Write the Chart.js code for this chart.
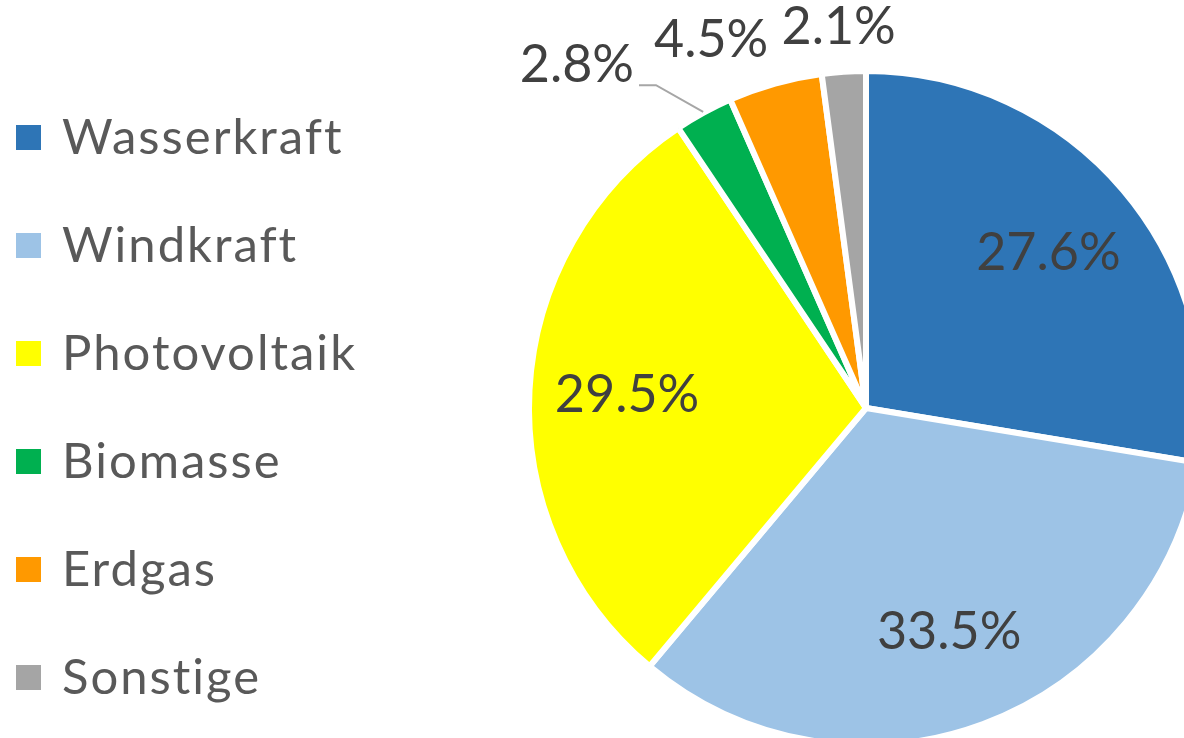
<!DOCTYPE html>
<html>
<head>
<meta charset="utf-8">
<script src="https://cdn.jsdelivr.net/npm/chart.js@4.4.0/dist/chart.umd.min.js"></script>
<style>
  html, body { margin: 0; padding: 0; background: #fff; overflow: hidden; }
  #wrap { position: relative; width: 1184px; height: 738px; }
</style>
</head>
<body>
<div id="wrap"><canvas id="pie" width="1184" height="738"></canvas></div>
<script>
// data
const categories = ['Wasserkraft', 'Windkraft', 'Photovoltaik', 'Biomasse', 'Erdgas', 'Sonstige'];
const shares = [27.6, 33.5, 29.5, 2.8, 4.5, 2.1];
const sliceColors = ['#2e75b6', '#9dc3e6', '#ffff00', '#00b050', '#ff9900', '#a5a5a5'];

const FONT = 'Lato, "Open Sans", sans-serif';

// legend down the left side, drawn on the canvas
const sideLegend = {
    id: 'sideLegend',
    afterDraw(chart) {
        const ctx = chart.ctx;
        const labels = chart.data.labels;
        const bg = chart.data.datasets[0].backgroundColor;
        ctx.save();
        ctx.font = '49px ' + FONT;
        ctx.letterSpacing = '2px';
        ctx.textBaseline = 'alphabetic';
        labels.forEach((lab, i) => {
            const y = 137.5 + i * 108;
            ctx.fillStyle = bg[i];
            ctx.fillRect(16, y - 12.5, 25, 25);
            ctx.fillStyle = '#595959';
            ctx.fillText(lab, 62, y + 16);
        });
        ctx.restore();
    }
};

// percentage labels: inside for big slices, outside for small ones (leader line if pushed aside)
const sliceLabels = {
    id: 'sliceLabels',
    afterDatasetsDraw(chart) {
        const ctx = chart.ctx;
        const meta = chart.getDatasetMeta(0);
        const values = chart.data.datasets[0].data;
        ctx.save();
        ctx.font = '52px ' + FONT;
        ctx.fillStyle = '#404040';
        ctx.textAlign = 'center';
        ctx.textBaseline = 'middle';
        const h = 40;
        const placed = [];
        for (let i = meta.data.length - 1; i >= 0; i--) {
            const arc = meta.data[i];
            const { x, y, startAngle, endAngle, outerRadius } = arc.getProps(['x', 'y', 'startAngle', 'endAngle', 'outerRadius'], true);
            const mid = (startAngle + endAngle) / 2;
            const cos = Math.cos(mid), sin = Math.sin(mid);
            const txt = values[i].toFixed(1) + '%';
            const w = ctx.measureText(txt).width;
            if (values[i] >= 5) {
                const r = outerRadius * 0.71;
                ctx.fillText(txt, x + cos * r, y + sin * r);
                continue;
            }
            const d = outerRadius + 25;
            const px = x + cos * d, py = y + sin * d;
            const k = Math.max(-1, Math.min(1, cos * Math.abs(cos) * 14));
            let cx = px + k * w / 2;
            let cy = py + sin * h / 2;
            let box = { l: cx - w / 2, r: cx + w / 2, t: cy - h / 2, b: cy + h / 2 };
            let moved = false;
            placed.forEach(p => {
                const m = 6;
                if (box.r - m > p.l && box.l + m < p.r && box.b - m > p.t && box.t + m < p.b) {
                    const shift = box.r - p.l + 20;
                    cx -= shift;
                    cy -= 8;
                    box = { l: cx - w / 2, r: cx + w / 2, t: cy - h / 2, b: cy + h / 2 };
                    moved = true;
                }
            });
            ctx.fillText(txt, cx, cy);
            placed.push(box);
            if (moved) {
                const ex = x + cos * (outerRadius + 1), ey = y + sin * (outerRadius + 1);
                const ly = cy + 20;
                ctx.save();
                ctx.strokeStyle = '#a6a6a6';
                ctx.lineWidth = 2;
                ctx.beginPath();
                ctx.moveTo(ex, ey);
                ctx.lineTo(box.r + 22, ly);
                ctx.lineTo(box.r + 5, ly);
                ctx.stroke();
                ctx.restore();
            }
        }
        ctx.restore();
    }
};

new Chart(document.getElementById('pie'), {
    type: 'pie',
    data: {
        labels: categories,
        datasets: [{
            data: shares,
            backgroundColor: sliceColors,
            borderColor: '#ffffff',
            borderWidth: 6,
            clip: false
        }]
    },
    options: {
        responsive: false,
        animation: false,
        radius: 337,
        layout: { padding: { left: 548, top: 78, right: 0, bottom: 0 } },
        plugins: {
            legend: { display: false },
            tooltip: { enabled: false }
        }
    },
    plugins: [sideLegend, sliceLabels]
});
</script>
</body>
</html>
